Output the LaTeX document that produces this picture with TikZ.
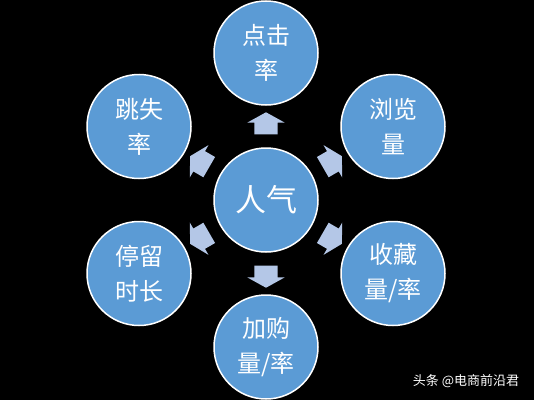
\documentclass[tikz,border=0pt]{standalone}
\usepackage{fontspec}
\usepackage{xcolor}
\usetikzlibrary{shapes.arrows,calc}
\newfontfamily\cjk{Noto Sans CJK SC}
\definecolor{ballblue}{RGB}{91,155,213}
\definecolor{arrblue}{RGB}{180,199,231}
\tikzset{ball/.style={circle,draw=white,line width=1.5pt,fill=ballblue,minimum size=104pt,inner sep=0pt,text=white,align=center,font=\cjk\fontsize{24}{35}\selectfont},
    outarr/.style={single arrow,fill=arrblue,draw=none,inner xsep=0pt,inner ysep=11.5pt,minimum height=22pt,minimum width=37pt,single arrow head extend=7pt,single arrow tip angle=122}}

\begin{document}
\begin{tikzpicture}[x=1pt,y=1pt]
    \fill[black] (0,0) rectangle (534,400);
    \useasboundingbox (0,0) rectangle (534,400);

    \node[ball,font=\cjk\fontsize{31}{36}\selectfont] (pop)at (266,200) {人气};
    \node[ball] (click)at (266,347) {点击\\率};
    \node[ball] (view)at (393,273.5) {浏览\\量};
    \node[ball] (fav)at (393,126.5) {收藏\\量/率};
    \node[ball] (cart)at (266,53) {加购\\量/率};
    \node[ball] (stay)at (139,126.5) {停留\\时长};
    \node[ball] (bounce)at (139,273.5) {跳失\\率};

    \node[outarr,rotate=90] (a1)at ($(pop)!0.5!(click)$) {};
    \node[outarr,rotate=30] (a2)at ($(pop)!0.5!(view)$) {};
    \node[outarr,rotate=-30] (a3)at ($(pop)!0.5!(fav)$) {};
    \node[outarr,rotate=-90] (a4)at ($(pop)!0.5!(cart)$) {};
    \node[outarr,rotate=-150] (a5)at ($(pop)!0.5!(stay)$) {};
    \node[outarr,rotate=150] (a6)at ($(pop)!0.5!(bounce)$) {};

    \node[text=white,font=\cjk\fontsize{13}{13}\selectfont] (mark)at (466,19) {头条 @电商前沿君};
\end{tikzpicture}
\end{document}
